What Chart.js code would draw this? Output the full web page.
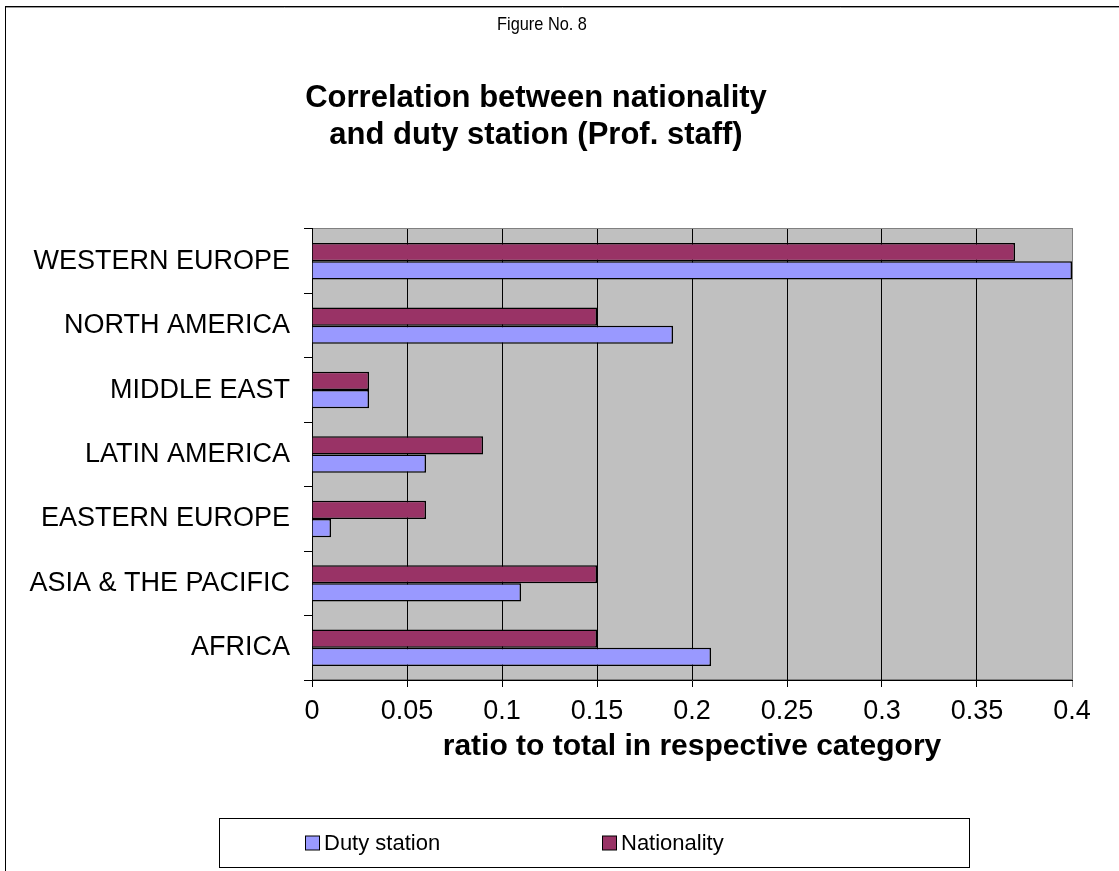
<!DOCTYPE html>
<html>
<head>
<meta charset="utf-8">
<title>Correlation between nationality and duty station</title>
<script src="https://cdn.jsdelivr.net/npm/chart.js@4/dist/chart.umd.min.js"></script>
<style>
  html, body { margin: 0; padding: 0; background: #ffffff; }
  #wrap { width: 1119px; height: 871px; }
</style>
</head>
<body>
<div id="wrap"><canvas id="chart" width="1119" height="871"></canvas></div>
<script>
// Regions, top to bottom
const categories = [
  'WESTERN EUROPE',
  'NORTH AMERICA',
  'MIDDLE EAST',
  'LATIN AMERICA',
  'EASTERN EUROPE',
  'ASIA & THE PACIFIC',
  'AFRICA'
];
// Ratio to total in respective category
const nationality = [0.37, 0.15, 0.03, 0.09, 0.06, 0.15, 0.15];
const dutyStation = [0.40, 0.19, 0.03, 0.06, 0.01, 0.11, 0.21];
// Value axis ticks and their labels
const xTickValues = [0, 0.05, 0.1, 0.15, 0.2, 0.25, 0.3, 0.35, 0.4];
const xTickLabels = ['0', '0.05', '0.1', '0.15', '0.2', '0.25', '0.3', '0.35', '0.4'];

const figureLabel = 'Figure No. 8';
const titleLines = ['Correlation between nationality', 'and duty station (Prof. staff)'];
const xAxisTitle = 'ratio to total in respective category';

const FONT = "'Liberation Sans', Arial, Helvetica, sans-serif";
const COL_DUTY = '#9999FF';
const COL_NAT = '#993366';

// Outer frame, figure number, grey plot background and its border
const backdrop = {
  id: 'backdrop',
  beforeDraw(chart) {
    const { ctx, chartArea: a } = chart;
    ctx.save();
    ctx.fillStyle = '#ffffff';
    ctx.fillRect(0, 0, chart.width, chart.height);
    ctx.strokeStyle = '#000000';
    ctx.lineWidth = 1;
    ctx.strokeRect(5.5, 6.5, chart.width + 20, chart.height + 20);
    ctx.strokeStyle = '#9a9a9a';
    ctx.beginPath();
    ctx.moveTo(6, 7.5); ctx.lineTo(chart.width, 7.5);
    ctx.stroke();

    // condensed figure number above the title
    ctx.fillStyle = '#000000';
    ctx.font = '19px ' + FONT;
    ctx.textAlign = 'center';
    ctx.textBaseline = 'middle';
    ctx.translate(542, 25);
    ctx.scale(0.86, 1);
    ctx.fillText(figureLabel, 0, 0);
    ctx.setTransform(1, 0, 0, 1, 0, 0);

    ctx.fillStyle = '#C0C0C0';
    ctx.fillRect(a.left, a.top, a.right - a.left, a.bottom - a.top);
    ctx.strokeStyle = '#808080';
    ctx.strokeRect(a.left + 0.5, a.top - 0.5, a.right - a.left, a.bottom - a.top);
    ctx.restore();
  }
};

// Boxed legend below the axis title
const boxLegend = {
  id: 'boxLegend',
  afterDraw(chart) {
    const { ctx } = chart;
    const box = { x: 219.5, y: 818.5, w: 750, h: 49 };
    ctx.save();
    ctx.fillStyle = '#ffffff';
    ctx.fillRect(box.x, box.y, box.w, box.h);
    ctx.strokeStyle = '#000000';
    ctx.lineWidth = 1;
    ctx.strokeRect(box.x, box.y, box.w, box.h);
    const items = [chart.data.datasets[1], chart.data.datasets[0]];
    const xs = [305, 602];
    const cy = box.y + box.h / 2;
    ctx.font = '22px ' + FONT;
    ctx.textBaseline = 'middle';
    ctx.textAlign = 'left';
    items.forEach((ds, i) => {
      ctx.fillStyle = ds.backgroundColor;
      ctx.fillRect(xs[i] + 0.5, cy - 7, 14, 14);
      ctx.strokeStyle = '#000000';
      ctx.strokeRect(xs[i] + 0.5, cy - 7, 14, 14);
      ctx.fillStyle = '#000000';
      ctx.fillText(ds.label, xs[i] + 19, cy + 1);
    });
    ctx.restore();
  }
};

new Chart(document.getElementById('chart'), {
  type: 'bar',
  data: {
    labels: categories,
    datasets: [
      {
        label: 'Nationality',
        data: nationality,
        backgroundColor: COL_NAT,
        borderColor: '#000000',
        borderWidth: 1.5,
        categoryPercentage: 0.565,
        barPercentage: 1.0
      },
      {
        label: 'Duty station',
        data: dutyStation,
        backgroundColor: COL_DUTY,
        borderColor: '#000000',
        borderWidth: 1.5,
        categoryPercentage: 0.565,
        barPercentage: 1.0
      }
    ]
  },
  options: {
    indexAxis: 'y',
    responsive: false,
    animation: false,
    events: [],
    layout: { padding: { top: 0, left: 0, right: 47, bottom: 88 } },
    plugins: {
      legend: { display: false },
      tooltip: { enabled: false },
      title: {
        display: true,
        text: titleLines,
        color: '#000000',
        font: { family: FONT, size: 31, weight: 'bold', lineHeight: 1.1935 },
        padding: { top: 80, bottom: 75 }
      }
    },
    scales: {
      y: {
        type: 'category',
        afterFit(scale) { scale.width = 312; },
        grid: {
          drawOnChartArea: false,
          drawTicks: true,
          tickLength: 8,
          color: '#000000',
          offset: true
        },
        border: { display: true, color: '#000000', width: 1 },
        ticks: {
          color: '#000000',
          padding: 14,
          font: { family: FONT, size: 27 }
        }
      },
      x: {
        type: 'linear',
        min: 0,
        max: 0.4,
        afterBuildTicks(scale) {
          scale.ticks = xTickValues.map(v => ({ value: v }));
        },
        afterFit(scale) { scale.height = 103; },
        grid: {
          drawOnChartArea: true,
          drawTicks: true,
          tickLength: 7,
          color: (c) => (c.tick && c.tick.value === 0.4 ? '#808080' : '#000000'),
          lineWidth: 1
        },
        border: { display: true, color: '#000000', width: 1 },
        ticks: {
          color: '#000000',
          padding: 8,
          maxRotation: 0,
          autoSkip: false,
          font: { family: FONT, size: 27 },
          callback(value, index) { return xTickLabels[index]; }
        },
        title: {
          display: true,
          text: xAxisTitle,
          color: '#000000',
          font: { family: FONT, size: 30, weight: 'bold', lineHeight: 1.2 },
          padding: { top: 0, bottom: 18 }
        }
      }
    }
  },
  plugins: [backdrop, boxLegend]
});
</script>
</body>
</html>
